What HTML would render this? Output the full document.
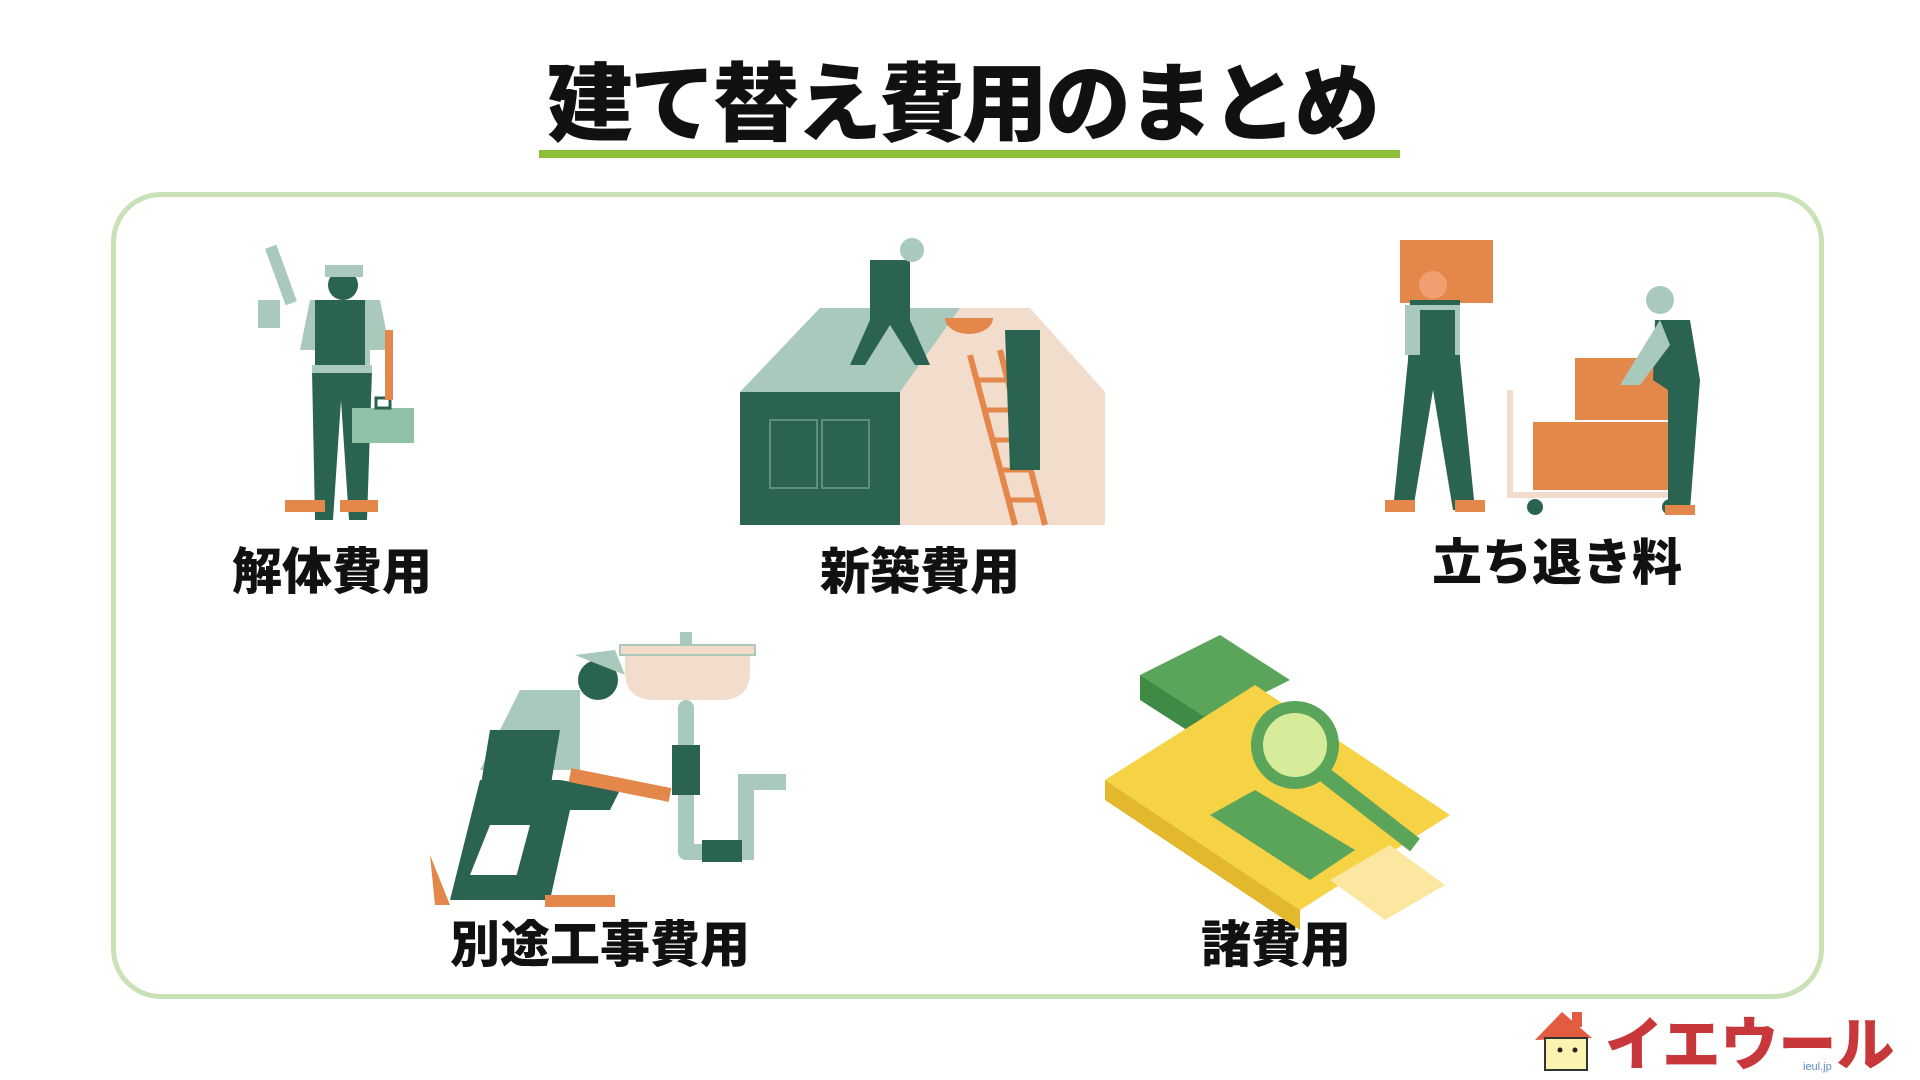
<!DOCTYPE html>
<html><head><meta charset="utf-8"><style>
body{margin:0;width:1920px;height:1080px;background:#fff;position:relative;overflow:hidden;font-family:"Liberation Sans","Noto Sans CJK JP",sans-serif;}
.t{position:absolute;font-weight:900;color:#111;white-space:nowrap;transform:translateX(-50%);}
.box{position:absolute;left:111px;top:192px;width:1703px;height:797px;border:5px solid #c8e2b6;border-radius:50px;}
svg{position:absolute;left:0;top:0}
</style></head><body>
<div class="t" style="left:962px;top:55px;font-size:86px;line-height:100px;letter-spacing:-3px">建て替え費用のまとめ</div>
<div style="position:absolute;left:539px;top:150px;width:861px;height:8px;background:#8dbf3a"></div>
<div class="box"></div>
<div class="t" style="left:332px;top:542px;font-size:50px;line-height:60px">解体費用</div>
<div class="t" style="left:920px;top:542px;font-size:50px;line-height:60px">新築費用</div>
<div class="t" style="left:1557px;top:533px;font-size:50px;line-height:60px">立ち退き料</div>
<div class="t" style="left:600px;top:915px;font-size:50px;line-height:60px">別途工事費用</div>
<div class="t" style="left:1276px;top:915px;font-size:50px;line-height:60px">諸費用</div>
<svg width="1920" height="1080">
<g>
<rect x="275" y="245" width="12" height="60" fill="#a9c9bc" transform="rotate(-20 281 275)"/>
<rect x="258" y="300" width="22" height="28" fill="#a9c9bc"/>
<circle cx="343" cy="285" r="15" fill="#2a6350"/>
<path d="M325 265 h38 v12 h-38z" fill="#a9c9bc"/>
<path d="M310 300 h70 l10 50 h-20 v30 h-50 v-30 h-20z" fill="#a9c9bc"/>
<path d="M315 300 h50 v70 h-50z" fill="#2a6350"/>
<path d="M312 370 h60 l-5 150 h-18 l-8 -120 l-8 120 h-18z" fill="#2a6350"/>
<rect x="312" y="365" width="60" height="8" fill="#a9c9bc"/>
<path d="M285 500 h40 v12 h-40z M340 500 h38 v12 h-38z" fill="#e3874a"/>
<rect x="352" y="408" width="62" height="35" fill="#8fc0a8"/>
<rect x="376" y="398" width="14" height="10" fill="none" stroke="#2a6350" stroke-width="3"/>
<rect x="385" y="330" width="8" height="70" fill="#e3874a"/>
</g>
<g>
<path d="M740 392 L820 308 L1030 308 L1105 392 V525 H740z" fill="#f2dccb"/>
<path d="M740 392 L820 308 L960 308 L900 392z" fill="#a9c9bc"/>
<rect x="740" y="392" width="160" height="133" fill="#2a6350"/>
<rect x="770" y="420" width="47" height="68" fill="none" stroke="#5e8f7e" stroke-width="2"/>
<rect x="822" y="420" width="47" height="68" fill="none" stroke="#5e8f7e" stroke-width="2"/>
<path d="M970 355 l45 170 M1000 350 l45 175" stroke="#e3874a" stroke-width="6"/>
<path d="M975 380h30 M983 410h30 M991 440h30 M999 470h30 M1007 500h30" stroke="#e3874a" stroke-width="5"/>
<path d="M1005 330 h35 v140 h-30z" fill="#2a6350"/>
<path d="M870 260 h40 v60 l20 45 h-15 l-25 -40 l-25 40 h-15 l20 -45z" fill="#2a6350"/>
<circle cx="912" cy="250" r="12" fill="#a9c9bc"/>
<path d="M945 318 a24 16 0 0 0 48 0z" fill="#e3874a"/>
</g>
<g>
<rect x="1400" y="240" width="93" height="63" fill="#e3874a"/>
<path d="M1410 300 h50 v60 l15 150 h-22 l-20 -120 l-20 120 h-20 l15 -150z" fill="#2a6350"/>
<path d="M1405 305 h55 v50 h-55z" fill="#a9c9bc"/>
<path d="M1420 310 h35 v50 h-35z" fill="#2a6350"/>
<circle cx="1433" cy="285" r="14" fill="#f0a070"/>
<path d="M1385 500 h30 v12 h-30z M1455 500 h30 v12 h-30z" fill="#e3874a"/>
<rect x="1575" y="358" width="95" height="62" fill="#e3874a"/>
<rect x="1533" y="422" width="150" height="68" fill="#e3874a"/>
<path d="M1510 390 v105 h170" stroke="#f2dccb" stroke-width="6" fill="none"/>
<circle cx="1535" cy="507" r="8" fill="#2a6350"/><circle cx="1670" cy="507" r="8" fill="#2a6350"/>
<circle cx="1660" cy="300" r="14" fill="#a9c9bc"/>
<path d="M1655 320 h35 l10 60 l-10 130 h-22 l0 -120 l-15 -10z" fill="#2a6350"/>
<path d="M1660 320 l-40 65 h20 l30 -40z" fill="#a9c9bc"/>
<path d="M1665 505 h30 v10 h-30z" fill="#e3874a"/>
</g>
<g>
<path d="M625 652 h125 v20 q0 28 -30 28 h-65 q-30 0 -30 -28z" fill="#f2dccb"/>
<rect x="620" y="645" width="135" height="10" fill="#f2dccb" stroke="#a9c9bc" stroke-width="2"/>
<rect x="680" y="632" width="12" height="14" fill="#a9c9bc"/>
<rect x="678" y="700" width="16" height="160" rx="8" fill="#a9c9bc"/>
<path d="M686 852 h60 v-70 h40" stroke="#a9c9bc" stroke-width="16" fill="none"/>
<rect x="702" y="840" width="40" height="22" fill="#2a6350"/>
<rect x="672" y="745" width="28" height="50" fill="#2a6350"/>
<circle cx="598" cy="680" r="20" fill="#2a6350"/>
<path d="M575 655 l50 20 l-10 -25z" fill="#a9c9bc"/>
<path d="M520 690 h60 v80 h-100z" fill="#a9c9bc"/>
<path d="M490 730 h70 l-10 60 h-70z" fill="#2a6350"/>
<path d="M480 780 h80 l60 10 l-10 20 h-40 l-20 90 h-40 l20 -75 l-40 0 l-20 50 h80 v25 h-100z" fill="#2a6350"/>
<path d="M570 775 l100 20" stroke="#e3874a" stroke-width="14"/>
<path d="M430 855 l20 50 h-15z M545 895 h70 v12 h-70z" fill="#e3874a"/>
</g>
<g>
<path d="M1140 675 l80 -40 l70 45 l-80 40z" fill="#5aa55a"/>
<path d="M1140 675 v25 l70 45 v-25z" fill="#3f8a45"/>
<path d="M1105 780 l150 -95 l195 130 l-150 95z" fill="#f6d245"/>
<path d="M1105 780 v20 l195 130 v-20z" fill="#e3b82d"/>
<path d="M1330 880 l60 -35 l55 40 l-60 35z" fill="#fce7a0"/>
<path d="M1210 815 l45 -25 l100 60 l-45 30z" fill="#5aa55a"/>
<circle cx="1295" cy="745" r="38" fill="#d6ec9a" stroke="#5aa55a" stroke-width="12"/>
<path d="M1325 775 l90 70" stroke="#5aa55a" stroke-width="16"/>
</g>
</svg>
<svg width="380" height="80" style="left:1520px;top:1000px">
<path d="M15 40 L42 12 L72 38z" fill="#e35b40"/><rect x="52" y="12" width="10" height="15" fill="#e35b40"/>
<rect x="25" y="38" width="42" height="32" fill="#fbf3b0" stroke="#333" stroke-width="2"/>
<circle cx="40" cy="50" r="2.5" fill="#222"/><circle cx="55" cy="50" r="2.5" fill="#222"/>
<text x="85" y="65" font-family="Liberation Sans,Noto Sans CJK JP,sans-serif" font-weight="900" font-size="58" fill="#c8373a">イエウール</text>
<text x="283" y="70" font-family="Liberation Sans,sans-serif" font-size="11" fill="#5a8fc0">ieul.jp</text>
</svg>
</body></html>
